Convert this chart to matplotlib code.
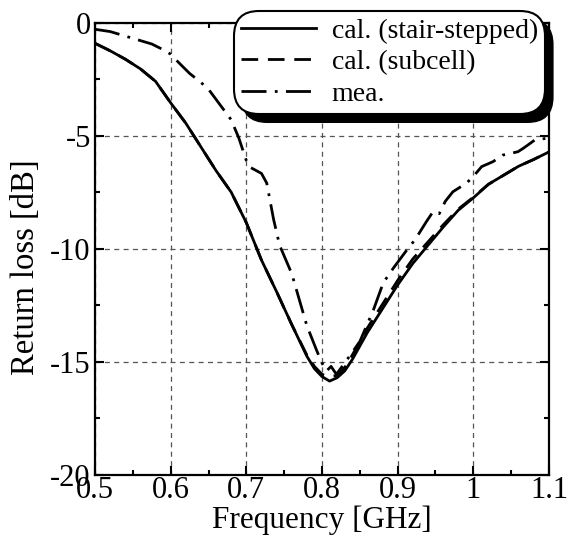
import matplotlib
matplotlib.use("Agg")
import matplotlib.pyplot as plt
from matplotlib.patches import Shadow
from matplotlib.ticker import MultipleLocator

plt.rcParams['font.family'] = ['Liberation Serif', 'DejaVu Serif']

# ---- data ----
freq_stair = [0.50, 0.52, 0.54, 0.56, 0.58, 0.60, 0.62, 0.64, 0.66, 0.68, 0.70,
              0.72, 0.74, 0.76, 0.78, 0.79, 0.80, 0.81, 0.82, 0.83, 0.84, 0.86,
              0.88, 0.90, 0.92, 0.94, 0.96, 0.98, 1.00, 1.02, 1.04, 1.06, 1.08, 1.10]
rl_stair = [-0.92, -1.25, -1.62, -2.05, -2.6, -3.55, -4.45, -5.5, -6.55, -7.5, -8.85,
            -10.5, -11.9, -13.35, -14.75, -15.3, -15.65, -15.85, -15.7, -15.4, -14.9, -13.7,
            -12.65, -11.6, -10.65, -9.85, -9.05, -8.3, -7.75, -7.15, -6.75, -6.35, -6.05, -5.72]

freq_sub = [0.50, 0.52, 0.54, 0.56, 0.58, 0.60, 0.62, 0.64, 0.66, 0.68, 0.70,
            0.72, 0.74, 0.76, 0.78, 0.79, 0.80, 0.81, 0.82, 0.83, 0.84, 0.86,
            0.88, 0.90, 0.92, 0.94, 0.96, 0.98, 1.00, 1.02, 1.04, 1.06, 1.08, 1.10]
rl_sub = [-0.92, -1.25, -1.62, -2.05, -2.6, -3.55, -4.45, -5.5, -6.55, -7.5, -8.85,
          -10.5, -11.9, -13.35, -14.7, -15.2, -15.55, -15.65, -15.6, -15.25, -14.7, -13.5,
          -12.45, -11.4, -10.45, -9.7, -8.95, -8.25, -7.72, -7.15, -6.75, -6.35, -6.05, -5.72]

freq_mea = [0.50, 0.52, 0.54, 0.56, 0.575, 0.59, 0.60, 0.61, 0.625, 0.64, 0.65, 0.66,
            0.67, 0.68, 0.69, 0.70, 0.705, 0.72, 0.727, 0.736, 0.744, 0.76, 0.78,
            0.793, 0.80, 0.806, 0.812, 0.819, 0.83, 0.85, 0.868, 0.881, 0.894, 0.912,
            0.923, 0.938, 0.947, 0.955, 0.963, 0.973, 0.991, 1.00, 1.011, 1.026, 1.039,
            1.05, 1.059, 1.066, 1.081, 1.10]
rl_mea = [-0.3, -0.4, -0.6, -0.8, -0.95, -1.2, -1.4, -1.75, -2.25, -2.65, -2.95, -3.4,
          -3.85, -4.3, -5.1, -6.1, -6.4, -6.67, -7.1, -8.7, -9.85, -11.1, -13.4,
          -14.5, -15.05, -15.4, -15.2, -15.55, -15.05, -14.1, -12.7, -11.5, -10.87, -10.06,
          -9.6, -8.8, -8.35, -8.45, -7.9, -7.48, -7.1, -6.8, -6.37, -6.15, -5.86,
          -5.78, -5.71, -5.56, -5.2, -5.1]

labels = ["cal. (stair-stepped)", "cal. (subcell)", "mea."]
xticks = [0.5, 0.6, 0.7, 0.8, 0.9, 1.0, 1.1]
xticklabels = ["0.5", "0.6", "0.7", "0.8", "0.9", "1", "1.1"]
yticks = [0, -5, -10, -15, -20]
yticklabels = ["0", "-5", "-10", "-15", "-20"]

# ---- figure ----
W, H = 571, 547
fig = plt.figure(figsize=(W / 100, H / 100), dpi=100)
ax = fig.add_axes([95 / W, 1 - 475 / H, 454 / W, 452.5 / H])

lw = 2.0
ax.plot(freq_stair, rl_stair, color='black', lw=lw, ls='-', label=labels[0], zorder=3)
ax.plot(freq_sub, rl_sub, color='black', lw=lw, dashes=(6.0, 3.5), label=labels[1], zorder=3)
ax.plot(freq_mea, rl_mea, color='black', lw=lw, dashes=(9.0, 3.0, 1.0, 3.0), label=labels[2], zorder=3)

ax.set_xlim(0.5, 1.1)
ax.set_ylim(-20, 0)
ax.set_xticks(xticks)
ax.set_xticklabels(xticklabels)
ax.set_yticks(yticks)
ax.set_yticklabels(yticklabels)
ax.xaxis.set_minor_locator(MultipleLocator(0.05))
ax.yaxis.set_minor_locator(MultipleLocator(2.5))

ax.tick_params(which='both', direction='in', top=True, right=True, width=1.5, labelsize=22)
ax.tick_params(which='major', length=6.5)
ax.tick_params(which='minor', length=3.5)
ax.tick_params(axis='x', which='major', pad=1)
ax.tick_params(axis='y', which='major', pad=3)
for s in ax.spines.values():
    s.set_linewidth(1.6)

ax.grid(which='major', color='#555555', lw=0.9, linestyle=(0, (4, 3.5)))
ax.set_axisbelow(True)

ax.set_xlabel("Frequency [GHz]", fontsize=22.5, labelpad=0)
ax.set_ylabel("Return loss [dB]", fontsize=23.5)
ax.yaxis.set_label_coords(-0.118, 0.46)

leg = ax.legend(loc='upper right', bbox_to_anchor=(0.991, 1.025), bbox_transform=ax.transAxes,
                borderaxespad=0, fontsize=20, handlelength=2.7, handletextpad=0.55,
                labelspacing=0.22, borderpad=0.25, fancybox=True, framealpha=1,
                edgecolor='black', facecolor='white')
leg.get_frame().set_linewidth(1.5)
leg.get_frame().set_boxstyle('round', pad=0.0, rounding_size=0.9)
leg.set_zorder(10)
fig.canvas.draw()
sh = Shadow(leg.legendPatch, 5.5, -6.0, facecolor='black', edgecolor='black', alpha=1)
sh.set_zorder(9)
sh.set_clip_on(False)
ax.add_artist(sh)

fig.savefig("out.png", dpi=100)
